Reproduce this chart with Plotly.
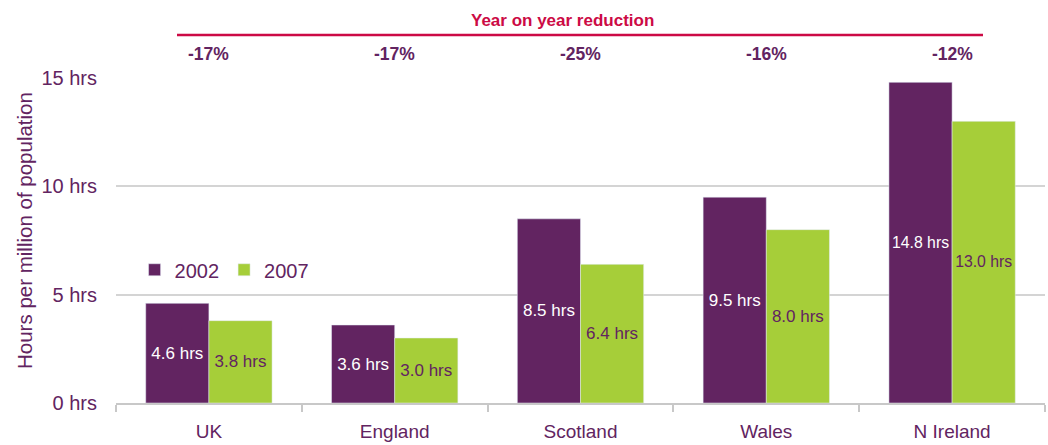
import plotly.graph_objects as go

categories = ["UK", "England", "Scotland", "Wales", "N Ireland"]
values_2002 = [4.6, 3.6, 8.5, 9.5, 14.8]
values_2007 = [3.8, 3.0, 6.4, 8.0, 13.0]
reductions = ["-17%", "-17%", "-25%", "-16%", "-12%"]
y_ticks = [0, 5, 10, 15]

PURPLE = "#622461"
GREEN = "#A6CE39"
CRIMSON = "#CC0A45"
FONT = "Liberation Sans, Arial, sans-serif"

fig = go.Figure()
fig.add_trace(go.Bar(
    x=categories, y=values_2002, name="2002", marker_color=PURPLE,
    text=[f"{v:.1f} hrs" for v in values_2002], textposition="inside",
    insidetextanchor="middle", textfont=dict(color="white", size=17, family=FONT),
    textangle=0,
))
fig.add_trace(go.Bar(
    x=categories, y=values_2007, name="2007", marker_color=GREEN,
    text=[f"{v:.1f} hrs" for v in values_2007], textposition="inside",
    insidetextanchor="middle", textfont=dict(color=PURPLE, size=17, family=FONT),
    textangle=0,
))

fig.update_layout(
    width=1048, height=445,
    margin=dict(l=116, r=3, t=78, b=42),
    paper_bgcolor="white", plot_bgcolor="white",
    barmode="group", bargap=0.32, bargroupgap=0,
    font=dict(family=FONT, color=PURPLE, size=20),
    uniformtext=dict(mode=None),
    legend=dict(orientation="h", x=0.02, y=0.41, xanchor="left", yanchor="middle",
                font=dict(size=20, color=PURPLE), bgcolor="rgba(0,0,0,0)",
                itemwidth=30, tracegroupgap=0),
    showlegend=True,
)
fig.update_xaxes(
    showgrid=False, showline=True, linecolor="#C8C8C8", linewidth=2,
    ticks="outside", tickson="boundaries", ticklen=7, tickwidth=2, tickcolor="#C8C8C8",
    ticklabelstandoff=10,
    tickfont=dict(size=19, color=PURPLE, family=FONT),
)
fig.update_yaxes(
    range=[0, 15], tickvals=y_ticks, ticktext=[f"{v} hrs" for v in y_ticks],
    showgrid=True, gridcolor="#D4D4D4", gridwidth=2, zeroline=False,
    showline=False, ticks="", ticklabelstandoff=18,
    tickfont=dict(size=20, color=PURPLE, family=FONT),
)

# Y-axis title as rotated annotation
fig.add_annotation(text="Hours per million of population", xref="paper", yref="paper",
                   x=0, xshift=-(116 - 25), y=(403 - 231) / (403 - 78), textangle=-90,
                   showarrow=False, xanchor="center", yanchor="middle",
                   font=dict(size=20.5, color=PURPLE, family=FONT))

# Header: "Year on year reduction" with line
fig.add_annotation(text="<b>Year on year reduction</b>", xref="paper", yref="paper",
                   x=(562 - 116) / (1048 - 116 - 3), y=1.0, yshift=58, showarrow=False,
                   font=dict(size=17, color=CRIMSON, family=FONT), xanchor="center", yanchor="middle")
fig.add_shape(type="line", xref="paper", yref="paper",
              x0=(177 - 116) / 929, x1=(983 - 116) / 929,
              y0=(403 - 35) / (403 - 78), y1=(403 - 35) / (403 - 78),
              line=dict(color=CRIMSON, width=2.5))
for c, r in zip(categories, reductions):
    fig.add_annotation(text=f"<b>{r}</b>", x=c, xref="x", yref="paper", y=1.0, yshift=24,
                       showarrow=False, font=dict(size=17.5, color=PURPLE, family=FONT),
                       yanchor="middle")

fig.write_html("out.html")
